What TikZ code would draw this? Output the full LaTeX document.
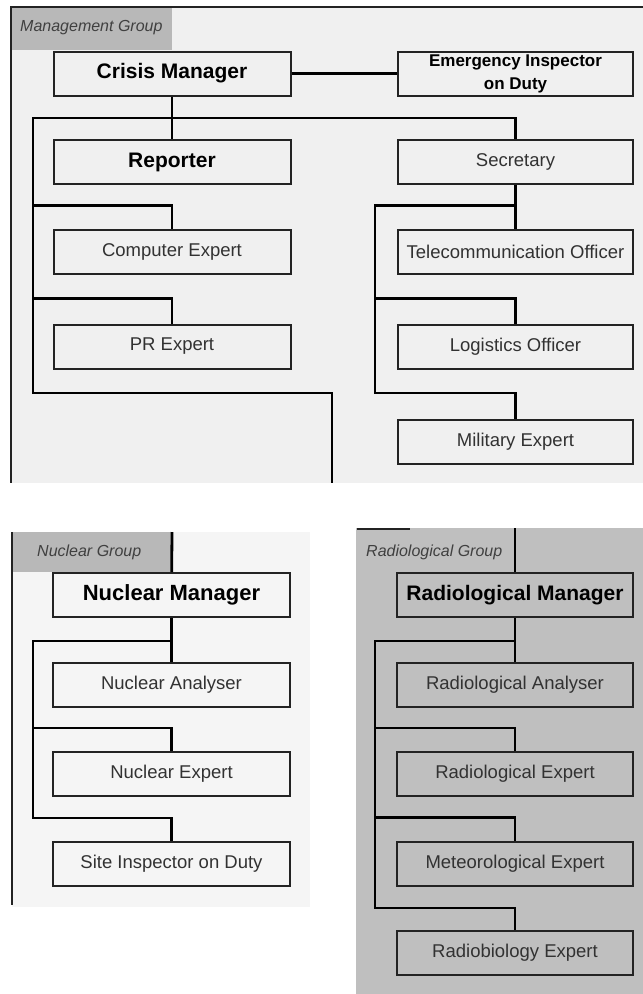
\documentclass[tikz,border=0pt]{standalone}
\usepackage{fontspec}
\setmainfont{Liberation Sans}
\usepackage{tikz}
\usetikzlibrary{positioning}
\usepackage{xcolor}
\definecolor{mgmtbg}{RGB}{240,240,240}
\definecolor{nucbg}{RGB}{245,245,245}
\definecolor{radbg}{RGB}{191,191,191}
\definecolor{tabgray}{RGB}{184,184,184}
\definecolor{edgegray}{RGB}{35,35,35}
\definecolor{textgray}{RGB}{50,50,50}
\tikzstyle{post} = [rectangle, minimum width=237pt, minimum height=44pt, inner sep=0pt, text centered, draw=edgegray, line width=2pt, fill=mgmtbg, text=textgray, font=\fontsize{18.5}{20}\selectfont]
\tikzstyle{headpost} = [post, text=black, font=\bfseries\fontsize{21}{23}\selectfont]
\tikzstyle{link} = [line width=2.8pt, color=black]
\tikzstyle{grouplabel} = [anchor=west, inner sep=0pt, text=black!75, font=\itshape\fontsize{16}{18}\selectfont]
\begin{document}
\begin{tikzpicture}[x=1pt, y=-1pt, node distance=89.5pt]
\useasboundingbox (0,0) rectangle (643,994);
\fill[white] (0,0) rectangle (643,994);

% Group panels
\fill[mgmtbg] (11,7) rectangle (643,483);
\fill[tabgray] (11,7) rectangle (172,50);
\draw[edgegray, line width=2pt] (643,7) -- (11,7) -- (11,483);
\fill[nucbg] (12,532) rectangle (310,907);
\fill[tabgray] (12,532) rectangle (172,572);
\draw[edgegray, line width=2pt] (12,532) -- (12,905);
\fill[radbg] (356,528) rectangle (643,994);
\draw[edgegray, line width=1.5pt] (357,529) -- (410,529);

\node (mlabel) [grouplabel] at (20,28) {Management Group};
\node (nlabel) [grouplabel] at (37,552) {Nuclear Group};
\node (rlabel) [grouplabel] at (366,552) {Radiological Group};

% Management group
\node (crisis) [headpost] at (172,73.5) {Crisis Manager};
\node (emer) [headpost, right of=crisis, node distance=343.5pt, minimum width=235pt, align=center, font=\bfseries\fontsize{17}{23}\selectfont] {Emergency Inspector\\on Duty};
\node (rep) [headpost, below of=crisis, node distance=88.5pt] {Reporter};
\node (comp) [post, below of=rep] {Computer Expert};
\node (pr) [post, below of=comp, node distance=95pt] {PR Expert};
\node (sec) [post, below of=emer, node distance=88.5pt, minimum width=235pt] {Secretary};
\node (tel) [post, below of=sec, minimum width=235pt] {Telecommunication Officer};
\node (log) [post, below of=tel, node distance=95pt, minimum width=235pt] {Logistics Officer};
\node (mil) [post, below of=log, node distance=95pt, minimum width=235pt] {Military Expert};

\coordinate (mleft) at (33,118);
\coordinate (mbend) at (33,393);
\coordinate (mtail) at (332,483);
\coordinate (rleft) at (375,207);
\coordinate (rbend) at (375,393);
\draw[link] (crisis) -- (emer);
\draw[link] (crisis) -- (rep);
\draw[link] (sec.north) |- (mleft) -- (mbend) -| (mtail);
\draw[link] (comp.north) -- ++(0,-23) -| (mleft);
\draw[link] (pr.north) -- ++(0,-25) -| (mleft);
\draw[link] (sec) -- (tel);
\draw[link] (tel.north) -- ++(0,-23) -| (rleft) -- (rbend) -| (mil.north);
\draw[link] (log.north) -- ++(0,-25) -| (rleft);

% Nuclear group
\node (nman) [headpost, fill=nucbg, font=\bfseries\fontsize{22}{24}\selectfont] at (171.5,595) {Nuclear Manager};
\node (nana) [post, fill=nucbg, below of=nman] {Nuclear Analyser};
\node (nexp) [post, fill=nucbg, below of=nana] {Nuclear Expert};
\node (nsite) [post, fill=nucbg, below of=nexp] {Site Inspector on Duty};

\coordinate (ntop) at (172,532);
\coordinate (nleft) at (33,641);
\coordinate (nbend) at (33,818);
\draw[link] (ntop) -- (nman);
\draw[link] (nman) -- (nana);
\draw[link] (nana.north) |- (nleft) -- (nbend) -| (nsite.north);
\draw[link] (nexp.north) -- ++(0,-23) -| (nleft);

% Radiological group
\node (rman) [headpost, fill=radbg, right of=nman, node distance=343.5pt, minimum width=236pt] {Radiological Manager};
\node (rana) [post, fill=radbg, below of=rman, minimum width=236pt] {Radiological Analyser};
\node (rexp) [post, fill=radbg, below of=rana, minimum width=236pt] {Radiological Expert};
\node (rmet) [post, fill=radbg, below of=rexp, minimum width=236pt] {Meteorological Expert};
\node (rbio) [post, fill=radbg, below of=rmet, minimum width=236pt] {Radiobiology Expert};

\coordinate (rtop) at (515,528);
\coordinate (radleft) at (375,641);
\coordinate (radbend) at (375,908);
\draw[link, line width=1.6pt] (rtop) -- (rman);
\draw[link] (rman) -- (rana);
\draw[link] (rana.north) |- (radleft) -- (radbend) -| (rbio.north);
\draw[link] (rexp.north) -- ++(0,-23) -| (radleft);
\draw[link] (rmet.north) -- ++(0,-23) -| (radleft);
\end{tikzpicture}
\end{document}
